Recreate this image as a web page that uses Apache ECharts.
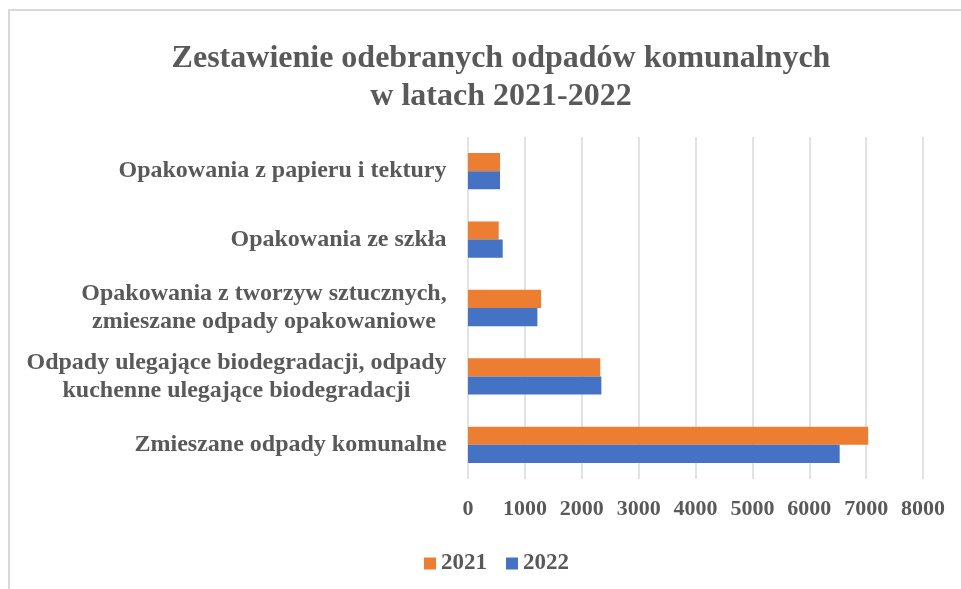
<!DOCTYPE html>
<html>
<head>
<meta charset="utf-8">
<script src="https://cdn.jsdelivr.net/npm/echarts@6/dist/echarts.min.js"></script>
<style>
    html, body { margin: 0; padding: 0; background: #fff; }
    #main { width: 961px; height: 589px; }
</style>
</head>
<body>
<div id="main"></div>
<script>
// kategorie (od dołu do góry, tak jak rysuje oś kategorii)
var categories = [
    'Zmieszane odpady komunalne',
    'Odpady ulegające biodegradacji, odpady\nkuchenne ulegające biodegradacji',
    'Opakowania z tworzyw sztucznych,\nzmieszane odpady opakowaniowe',
    'Opakowania ze szkła',
    'Opakowania z papieru i tektury'
];
var years = ['2021', '2022'];
var values2021 = [7035, 2325, 1285, 540, 563];
var values2022 = [6535, 2345, 1220, 610, 563];
var xTicks = [0, 1000, 2000, 3000, 4000, 5000, 6000, 7000, 8000];

var fontFamily = '"Liberation Serif", "Times New Roman", serif';
var gray = '#595959';
var labelSize = 24;

// szerokość każdej etykiety, żeby wyśrodkować wiersze w bloku
var ctx = document.createElement('canvas').getContext('2d');
ctx.font = 'bold ' + labelSize + 'px ' + fontFamily;
var rich = {};
categories.forEach(function (c, i) {
    var w = 0;
    c.split('\n').forEach(function (line) {
        w = Math.max(w, ctx.measureText(line).width);
    });
    rich['c' + i] = {
        width: Math.ceil(w),
        align: 'center',
        fontFamily: fontFamily,
        fontWeight: 'bold',
        fontSize: labelSize,
        lineHeight: 28,
        color: gray
    };
});

var myChart = echarts.init(document.getElementById('main'));

var option = {
    backgroundColor: '#fff',
    title: {
        text: 'Zestawienie odebranych odpadów komunalnych\nw latach 2021-2022',
        left: 496,
        top: 35,
        textAlign: 'center',
        textStyle: {
            fontFamily: fontFamily,
            fontWeight: 'bold',
            fontSize: 32,
            lineHeight: 38,
            color: gray
        }
    },
    legend: {
        data: years,
        left: 419,
        top: 547,
        icon: 'rect',
        itemWidth: 12,
        itemHeight: 12,
        itemGap: 19,
        textStyle: {
            fontFamily: fontFamily,
            fontWeight: 'bold',
            fontSize: 23,
            color: gray
        }
    },
    graphic: [{
        type: 'rect',
        shape: { x: 9, y: 10, width: 1000, height: 700 },
        style: { fill: 'none', stroke: '#d9d9d9', lineWidth: 2 },
        silent: true
    }],
    grid: {
        left: 468,
        right: 38,
        top: 137,
        bottom: 110,
        containLabel: false
    },
    xAxis: {
        type: 'value',
        min: xTicks[0],
        max: xTicks[xTicks.length - 1],
        interval: xTicks[1] - xTicks[0],
        axisLine: { show: false },
        axisTick: { show: false },
        splitLine: { lineStyle: { color: '#d9d9d9', width: 1.5 } },
        axisLabel: {
            margin: 19,
            fontFamily: fontFamily,
            fontWeight: 'bold',
            fontSize: 22,
            color: gray,
            formatter: function (v) { return String(v); }
        }
    },
    yAxis: {
        type: 'category',
        data: categories,
        axisLine: { show: false },
        axisTick: { show: false },
        axisLabel: {
            margin: 21,
            align: 'right',
            formatter: function (value, index) {
                return value.split('\n').map(function (line) {
                    return '{c' + index + '|' + line + '}';
                }).join('\n');
            },
            rich: rich
        }
    },
    series: [
        {
            name: '2021',
            type: 'bar',
            data: values2021,
            itemStyle: { color: '#ED7D31' },
            barGap: '0%',
            barCategoryGap: '47%'
        },
        {
            name: '2022',
            type: 'bar',
            data: values2022,
            itemStyle: { color: '#4472C4' },
            barGap: '0%',
            barCategoryGap: '47%'
        }
    ]
};

myChart.setOption(option);
</script>
</body>
</html>
